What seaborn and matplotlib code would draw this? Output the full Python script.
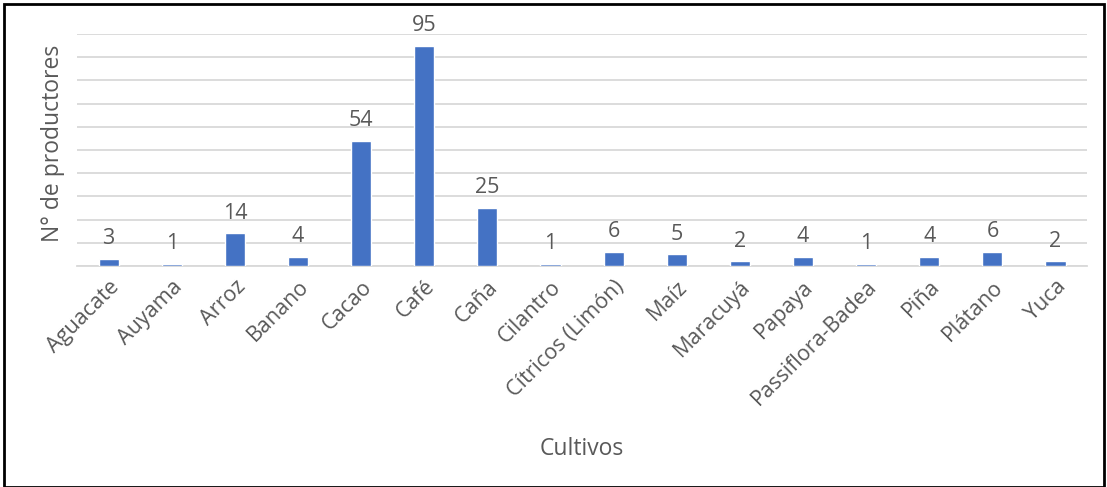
import matplotlib
matplotlib.use('Agg')
import pandas as pd
import seaborn as sns
from matplotlib import pyplot as plt
from matplotlib.patches import Rectangle

cultivos = ['Aguacate', 'Auyama', 'Arroz', 'Banano', 'Cacao', 'Café', 'Caña',
            'Cilantro', 'Cítricos (Limón)', 'Maíz', 'Maracuyá', 'Papaya',
            'Passiflora-Badea', 'Piña', 'Plátano', 'Yuca']
productores = [3, 1, 14, 4, 54, 95, 25, 1, 6, 5, 2, 4, 1, 4, 6, 2]

BAR_COLOR = '#4472C4'
TEXT_COLOR = '#595959'

sns.set_style('white')
plt.rcParams['font.family'] = ['Open Sans', 'DejaVu Sans']

df = pd.DataFrame({'Cultivos': cultivos, 'productores': productores})

fig = plt.figure(figsize=(11.07, 4.87), dpi=100)
ax = fig.add_axes([0.0696, 0.454, 0.9124, 0.476])

sns.barplot(data=df, x='Cultivos', y='productores', color=BAR_COLOR,
            width=0.32, saturation=1, ax=ax, zorder=3)

ax.set_ylim(0, 100)
ax.set_yticks(range(0, 101, 10))
ax.yaxis.grid(True, color='#d9d9d9', linewidth=1.3, zorder=0)
ax.set_axisbelow(True)
ax.tick_params(axis='y', left=False, labelleft=False)
ax.tick_params(axis='x', bottom=False, pad=4, colors=TEXT_COLOR, labelsize=15.5)
for lbl in ax.get_xticklabels():
    lbl.set_rotation(45)
    lbl.set_ha('right')
    lbl.set_rotation_mode('anchor')
for s in ['top', 'right', 'left']:
    ax.spines[s].set_visible(False)
ax.spines['bottom'].set_color('#d9d9d9')
ax.spines['bottom'].set_linewidth(1.3)
ax.spines['bottom'].set_zorder(1)

ax.bar_label(ax.containers[0], padding=7, fontsize=15.5, color=TEXT_COLOR)

ax.set_xlabel('Cultivos', fontsize=16.5, color=TEXT_COLOR)
ax.set_ylabel('N° de productores', fontsize=16.5, color=TEXT_COLOR)
ax.yaxis.set_label_coords(-0.012, 0.53)
ax.xaxis.set_label_coords(0.5, -0.74)

fig.patches.append(Rectangle((0.004, 0.0), 0.993, 0.992, transform=fig.transFigure,
                             fill=False, edgecolor='black', linewidth=2))

fig.savefig('out.png', dpi=100)
